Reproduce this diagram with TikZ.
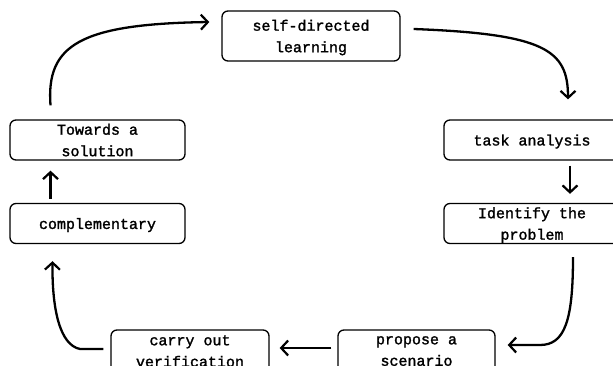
\documentclass[tikz,border=0pt]{standalone}
\usepackage{fontspec}
\setmainfont[FakeBold=1.6]{Liberation Mono}
\usetikzlibrary{arrows.meta}
\begin{document}
\begin{tikzpicture}[x=1pt,y=-1pt,
  box/.style={draw, line width=1.3pt, rounded corners=6pt, align=center, inner sep=0pt, text depth=0pt,
    font=\fontsize{15}{21.5}\selectfont},
  flow/.style={line width=2.3pt, -{Straight Barb[length=7pt,width=15pt,line width=2.2pt]}}]
\useasboundingbox (0,0) rectangle (613,366);
\clip (0,0) rectangle (613,366);
\node[box, minimum width=178pt, minimum height=50pt] (sdl) at (311,36) {self-directed\\learning};
\node[box, minimum width=176pt, minimum height=40pt] (ta) at (532,140) {task analysis};
\node[box, minimum width=176pt, minimum height=40pt] (ip) at (532,223.5) {Identify the\\problem};
\node[box, minimum width=175pt, minimum height=40pt] (ts) at (97.5,140) {Towards a\\solution};
\node[box, minimum width=175pt, minimum height=40pt] (cp) at (97.5,223.5) {complementary};
\node[box, minimum width=158pt, minimum height=42pt] (cv) at (190,351) {carry out\\verification};
\node[box, minimum width=157pt, minimum height=42pt] (ps) at (416.5,351) {propose a\\scenario};
\coordinate (a1s) at ([shift={(-47,-14)}]ts.north);
\coordinate (a1e) at ([shift={(-12,-14)}]sdl.west);
\draw[flow] (a1s) .. controls (46,45) and (80,24) .. (a1e);
\coordinate (a2s) at ([shift={(13,-7)}]sdl.east);
\coordinate (a2e) at ([shift={(36,-20)}]ta.north);
\draw[flow] (a2s) .. controls (545,34) and (568,50) .. (a2e);
\draw[flow] ([shift={(38,5)}]ta.south) -- ([shift={(38,-9)}]ip.north);
\coordinate (a4s) at ([shift={(41,13)}]ip.south);
\coordinate (a4e) at ([shift={(12,-6)}]ps.east);
\draw[flow] (a4s) .. controls (573,320) and (565,345) .. (540,345) -- (a4e);
\draw[flow] ([shift={(-6,-3)}]ps.west) -- ([shift={(10,-3)}]cv.east);
\coordinate (a6s) at ([shift={(-7,-2)}]cv.west);
\coordinate (a6e) at ([shift={(-45,17)}]cp.south);
\draw[flow] (a6s) -- (80,349) .. controls (60,345) and (52,310) .. (a6e);
\draw[flow] ([shift={(-47,-4)}]cp.north) -- ([shift={(-47,10)}]ts.south);
\end{tikzpicture}
\end{document}
